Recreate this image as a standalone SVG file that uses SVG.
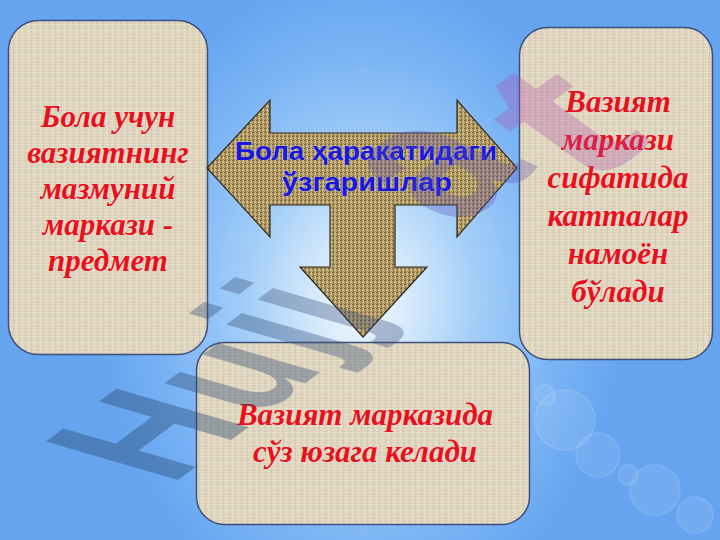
<svg xmlns="http://www.w3.org/2000/svg" width="720" height="540" viewBox="0 0 720 540">
  <defs>
    <radialGradient id="bg" cx="362" cy="300" r="330" gradientUnits="userSpaceOnUse" gradientTransform="translate(362 300) scale(0.8 1.0) translate(-362 -300)">
      <stop offset="0" stop-color="#f4faff"/>
      <stop offset="0.15" stop-color="#dcedfc"/>
      <stop offset="0.42" stop-color="#a6cff8"/>
      <stop offset="0.75" stop-color="#7ab4f5"/>
      <stop offset="1" stop-color="#66a4ef"/>
    </radialGradient>
    <pattern id="linen" width="6" height="6" patternUnits="userSpaceOnUse">
      <rect width="6" height="6" fill="#ddd2bb"/>
      <rect y="0" width="6" height="1" fill="#e9e1cf"/>
      <rect y="3" width="6" height="1" fill="#e4dbc7"/>
      <rect x="1" width="1" height="6" fill="#d2c6ab" opacity="0.7"/>
      <rect x="4" width="1" height="6" fill="#e7dfcb" opacity="0.7"/>
    </pattern>
    <pattern id="burlap" width="4" height="4" patternUnits="userSpaceOnUse">
      <rect width="4" height="4" fill="#b49c66"/>
      <rect width="2" height="1" fill="#76623c"/>
      <rect x="2" y="2" width="2" height="1" fill="#d6c48e"/>
      <rect x="1" y="2" width="1" height="2" fill="#8a7346"/>
      <rect x="3" y="0" width="1" height="2" fill="#cbb682"/>
    </pattern>
    <style>
      .box { fill: url(#linen); stroke: #3e4f7e; stroke-width: 1.5; }
      .red { font-family: "Liberation Serif", "Times New Roman", serif; font-weight: bold; font-style: italic; font-size: 31px; fill: #e8101c; text-anchor: middle; paint-order: stroke; stroke: #f4e4d8; stroke-width: 1.2px; stroke-opacity: 0.6; }
      .blue { font-family: "Liberation Sans", Arial, sans-serif; font-weight: bold; font-size: 25px; fill: #1a16dc; text-anchor: middle; paint-order: stroke; stroke: #c8d8f0; stroke-width: 1.2px; stroke-opacity: 0.5; }
      .wm { font-family: "Liberation Sans", Arial, sans-serif; font-weight: bold; font-size: 100px; }
      .bokeh { fill: #ffffff; fill-opacity: 0.08; stroke: #ffffff; stroke-opacity: 0.1; stroke-width: 2; }
    </style>
  </defs>

  <rect width="720" height="540" fill="url(#bg)"/>
  <g id="bokeh">
    <circle class="bokeh" cx="565" cy="420" r="30"/>
    <circle class="bokeh" cx="598" cy="455" r="22"/>
    <circle class="bokeh" cx="628" cy="475" r="10"/>
    <circle class="bokeh" cx="655" cy="490" r="25"/>
    <circle class="bokeh" cx="695" cy="515" r="18"/>
    <circle class="bokeh" cx="545" cy="395" r="10"/>
  </g>

  <g id="node-left">
    <rect class="box" x="8.5" y="20.5" width="199" height="334" rx="30"/>
    <text class="red" x="108" y="127">Бола учун</text>
    <text class="red" x="108" y="163">вазиятнинг</text>
    <text class="red" x="108" y="199">мазмуний</text>
    <text class="red" x="108" y="235">маркази -</text>
    <text class="red" x="108" y="271">предмет</text>
  </g>

  <g id="node-right">
    <rect class="box" x="519.5" y="27.5" width="193" height="332" rx="28"/>
    <text class="red" x="618" y="112">Вазият</text>
    <text class="red" x="618" y="150">маркази</text>
    <text class="red" x="618" y="188">сифатида</text>
    <text class="red" x="618" y="226">катталар</text>
    <text class="red" x="618" y="264">намоён</text>
    <text class="red" x="618" y="302">бўлади</text>
  </g>

  <g id="node-bottom">
    <rect class="box" x="196.5" y="342.5" width="333" height="182" rx="28"/>
    <text class="red" x="365" y="425">Вазият марказида</text>
    <text class="red" x="365" y="462">сўз юзага келади</text>
  </g>

  <g id="connectors">
    <g id="node-arrow">
      <path d="M207,168 L270,100 L270,133 L457,133 L457,100 L517,168 L457,237 L457,205 L395,205 L395,267 L427,267 L363,337 L300,267 L330,267 L330,205 L270,205 L270,237 Z" fill="url(#burlap)" stroke="#2e2a22" stroke-width="1.2"/>
      <text class="blue" x="366" y="160" textLength="262" lengthAdjust="spacingAndGlyphs">Бола ҳаракатидаги</text>
      <text class="blue" x="367" y="191" textLength="170" lengthAdjust="spacingAndGlyphs">ўзгаришлар</text>
    </g>
  </g>

  <g id="watermark" class="wm">
    <text transform="matrix(1.2,-0.9,1.92,0.56,170,486)" fill="#24456e" fill-opacity="0.4">H</text>
    <text transform="matrix(1.12,-0.84,1.92,0.56,259,418)" fill="#2a4670" fill-opacity="0.38">u</text>
    <text transform="matrix(1.12,-0.84,1.92,0.56,320,360)" fill="#304a74" fill-opacity="0.36">j</text>
    <text transform="matrix(1.12,-0.84,1.92,0.56,351,335)" fill="#384c78" fill-opacity="0.35">j</text>
    <text transform="matrix(1.44,-1.08,2.16,1.03,458,228)" fill="#5a4cb0" fill-opacity="0.3">a</text>
    <text transform="matrix(2.1,-1.5,1.78,1.30,585,190)" fill="#b04aa8" fill-opacity="0.3">t</text>
  </g>
</svg>
